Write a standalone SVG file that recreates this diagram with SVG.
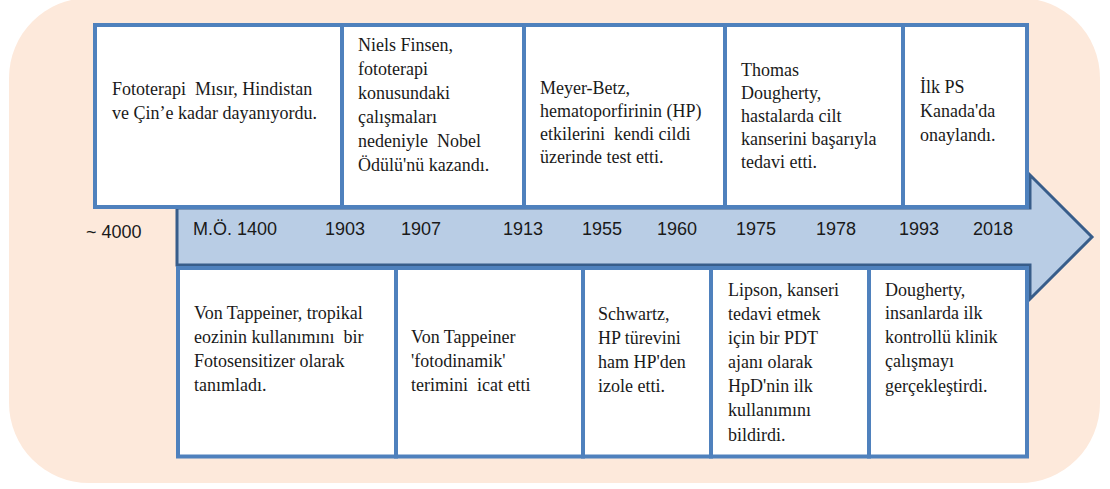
<svg xmlns="http://www.w3.org/2000/svg" width="1110" height="489" viewBox="0 0 1110 489">
<style>
.box{fill:#ffffff;stroke:#4f81bd;stroke-width:4}
.t{font-family:"Liberation Serif","Times New Roman",serif;font-size:18px;fill:#1a1a1a;white-space:pre}
.d{font-family:"Liberation Sans",Arial,sans-serif;font-size:18px;fill:#1a1a1a;white-space:pre}
</style>
<rect x="9" y="-2" width="1091" height="485" rx="80" ry="80" fill="#fde9db"/>
<g id="timeline">
<path d="M177,208 L1030,208 L1030,175 L1092,237 L1030,299 L1030,265 L177,265 Z" fill="#b9cde5" stroke="#385d8a" stroke-width="3" stroke-linejoin="miter"/>
</g>
<g id="top-1"><rect class="box" x="95" y="25" width="247" height="182"/>
<text class="t"><tspan x="112" y="95">Fototerapi  Mısır, Hindistan</tspan><tspan x="112" y="119">ve Çin’e kadar dayanıyordu.</tspan></text></g>
<g id="top-2"><rect class="box" x="342" y="25" width="182" height="182"/>
<text class="t"><tspan x="358" y="51">Niels Finsen,</tspan><tspan x="358" y="75">fototerapi</tspan><tspan x="358" y="99">konusundaki</tspan><tspan x="358" y="123">çalışmaları</tspan><tspan x="358" y="147">nedeniyle  Nobel</tspan><tspan x="358" y="171">Ödülü'nü kazandı.</tspan></text></g>
<g id="top-3"><rect class="box" x="524" y="25" width="201" height="182"/>
<text class="t"><tspan x="540" y="94">Meyer-Betz,</tspan><tspan x="540" y="117">hematoporfirinin (HP)</tspan><tspan x="540" y="140">etkilerini  kendi cildi</tspan><tspan x="540" y="163">üzerinde test etti.</tspan></text></g>
<g id="top-4"><rect class="box" x="725" y="25" width="178" height="182"/>
<text class="t"><tspan x="741" y="76">Thomas</tspan><tspan x="741" y="99">Dougherty,</tspan><tspan x="741" y="122">hastalarda cilt</tspan><tspan x="741" y="145">kanserini başarıyla</tspan><tspan x="741" y="168">tedavi etti.</tspan></text></g>
<g id="top-5"><rect class="box" x="903" y="25" width="124" height="182"/>
<text class="t"><tspan x="920" y="93">İlk PS</tspan><tspan x="920" y="117">Kanada'da</tspan><tspan x="920" y="141">onaylandı.</tspan></text></g>
<g id="dates">
<text class="d" x="86" y="238">~ 4000</text>
<text class="d" x="193" y="235">M.Ö. 1400</text>
<text class="d" x="325" y="235">1903</text>
<text class="d" x="401" y="235">1907</text>
<text class="d" x="503" y="235">1913</text>
<text class="d" x="582" y="235">1955</text>
<text class="d" x="657" y="235">1960</text>
<text class="d" x="736" y="235">1975</text>
<text class="d" x="816" y="235">1978</text>
<text class="d" x="899" y="235">1993</text>
<text class="d" x="973" y="235">2018</text>
</g>
<g id="bottom-1"><rect class="box" x="178" y="268" width="218" height="188.5"/>
<text class="t"><tspan x="194" y="319">Von Tappeiner, tropikal</tspan><tspan x="194" y="343">eozinin kullanımını  bir</tspan><tspan x="194" y="367">Fotosensitizer olarak</tspan><tspan x="194" y="391">tanımladı.</tspan></text></g>
<g id="bottom-2"><rect class="box" x="396" y="268" width="187" height="188.5"/>
<text class="t"><tspan x="411" y="343">Von Tappeiner</tspan><tspan x="411" y="367">'fotodinamik'</tspan><tspan x="411" y="391">terimini  icat etti</tspan></text></g>
<g id="bottom-3"><rect class="box" x="583" y="268" width="128" height="188.5"/>
<text class="t"><tspan x="598" y="320">Schwartz,</tspan><tspan x="598" y="344">HP türevini</tspan><tspan x="598" y="368">ham HP'den</tspan><tspan x="598" y="392">izole etti.</tspan></text></g>
<g id="bottom-4"><rect class="box" x="711" y="268" width="158" height="188.5"/>
<text class="t"><tspan x="728" y="296">Lipson, kanseri</tspan><tspan x="728" y="320">tedavi etmek</tspan><tspan x="728" y="344">için bir PDT</tspan><tspan x="728" y="368">ajanı olarak</tspan><tspan x="728" y="392">HpD'nin ilk</tspan><tspan x="728" y="416">kullanımını</tspan><tspan x="728" y="441">bildirdi.</tspan></text></g>
<g id="bottom-5"><rect class="box" x="869" y="268" width="158" height="188.5"/>
<text class="t"><tspan x="885" y="296">Dougherty,</tspan><tspan x="885" y="319">insanlarda ilk</tspan><tspan x="885" y="343">kontrollü klinik</tspan><tspan x="885" y="367">çalışmayı</tspan><tspan x="885" y="392">gerçekleştirdi.</tspan></text></g>
</svg>
